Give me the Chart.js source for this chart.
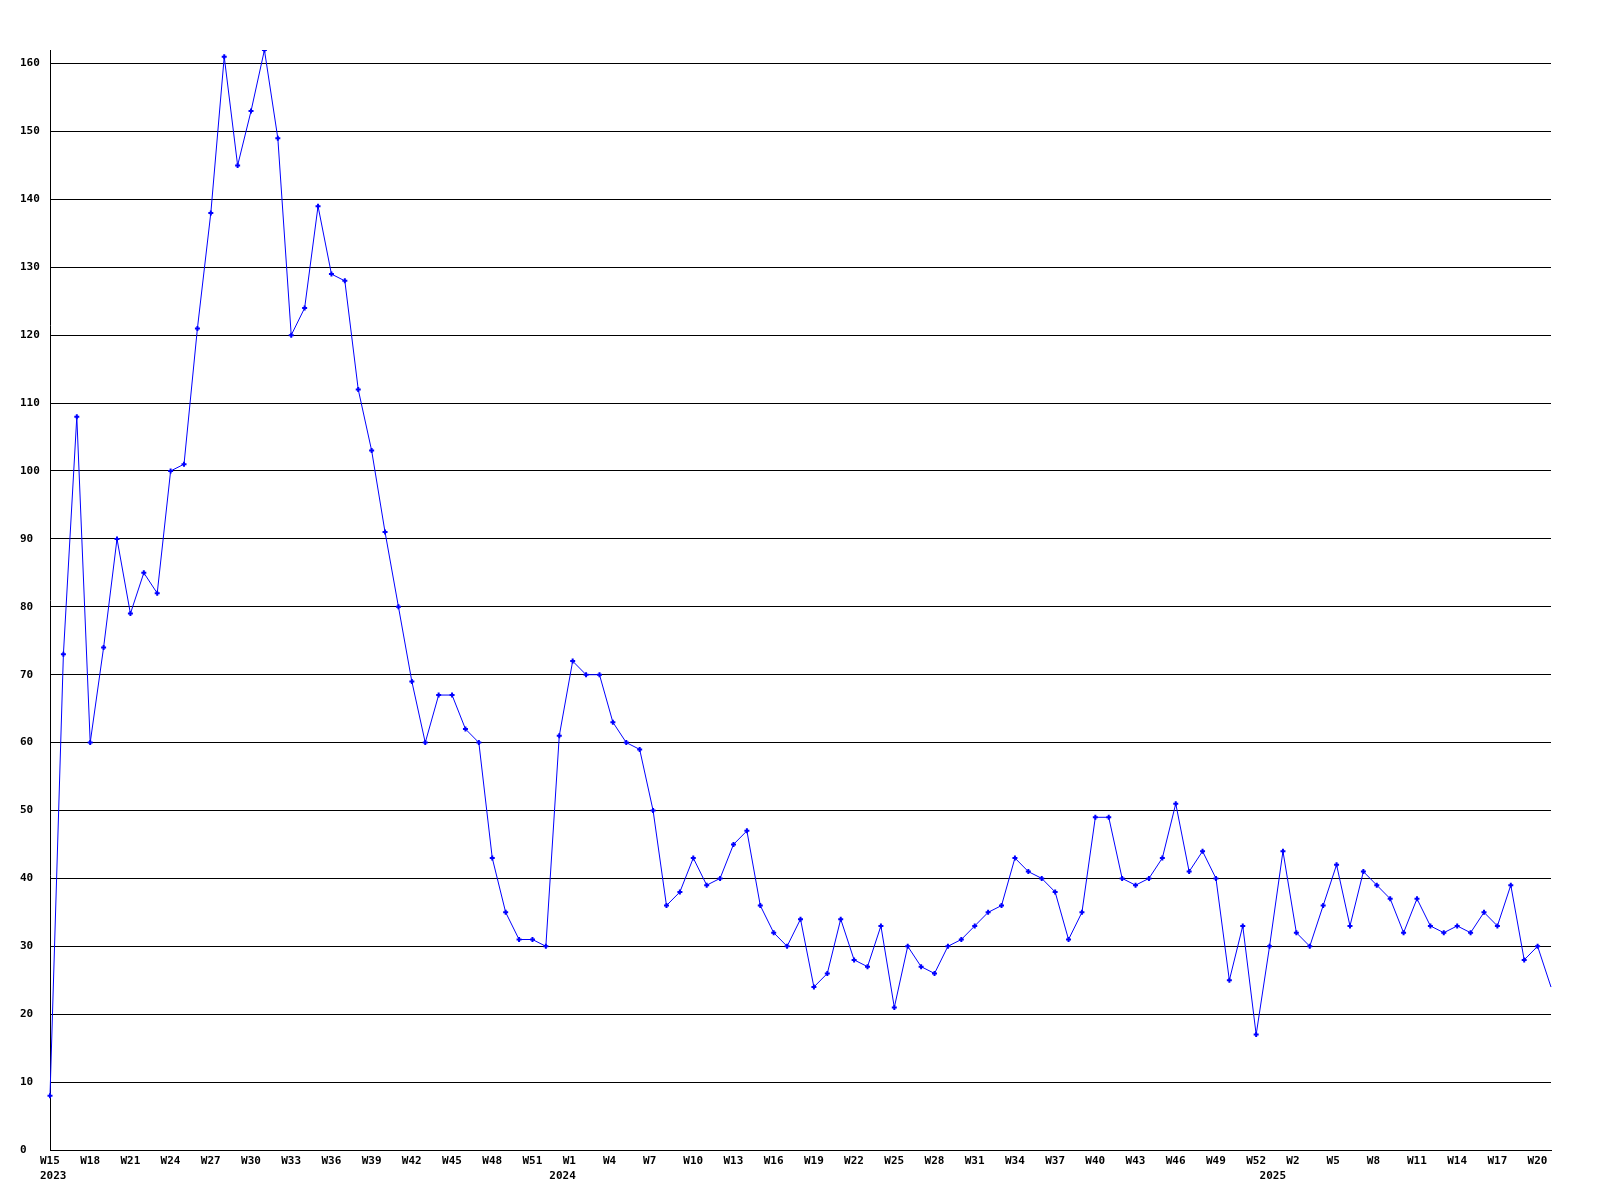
<!DOCTYPE html>
<html>
<head>
<meta charset="utf-8">
<script src="https://cdn.jsdelivr.net/npm/chart.js@4"></script>
<style>
    body { margin: 0; background: #fff; }
    #wrap { width: 1600px; height: 1200px; }
</style>
</head>
<body>
<div id="wrap"><canvas id="myChart" width="1600" height="1200"></canvas></div>
<script>
const years = ['2023', '2024', '2025'];

const weeks2023 = ['W15','W16','W17','W18','W19','W20','W21','W22','W23','W24','W25','W26','W27','W28','W29','W30','W31','W32','W33',
    'W34','W35','W36','W37','W38','W39','W40','W41','W42','W43','W44','W45','W46','W47','W48','W49','W50','W51','W52'];
const weeks2024 = ['W0','W1','W2','W3','W4','W5','W6','W7','W8','W9','W10','W11','W12','W13','W14','W15','W16','W17','W18','W19','W20',
    'W21','W22','W23','W24','W25','W26','W27','W28','W29','W30','W31','W32','W33','W34','W35','W36','W37','W38','W39','W40',
    'W41','W42','W43','W44','W45','W46','W47','W48','W49','W50','W51','W52'];
const weeks2025 = ['W0','W1','W2','W3','W4','W5','W6','W7','W8','W9','W10','W11','W12','W13','W14','W15','W16','W17','W18','W19','W20','W21'];

const counts = [
    8, 73, 108, 60, 74, 90, 79, 85, 82, 100, 101, 121, 138, 161, 145, 153, 162, 149, 120, 124,
    139, 129, 128, 112, 103, 91, 80, 69, 60, 67, 67, 62, 60, 43, 35, 31, 31, 30, 61, 72,
    70, 70, 63, 60, 59, 50, 36, 38, 43, 39, 40, 45, 47, 36, 32, 30, 34, 24, 26, 34,
    28, 27, 33, 21, 30, 27, 26, 30, 31, 33, 35, 36, 43, 41, 40, 38, 31, 35, 49, 49,
    40, 39, 40, 43, 51, 41, 44, 40, 25, 33, 17, 30, 44, 32, 30, 36, 42, 33, 41, 39,
    37, 32, 37, 33, 32, 33, 32, 35, 33, 39, 28, 30, 24
];

// flatten weeks, remember where each year starts
const labels = [];
const yearAt = {};
[weeks2023, weeks2024, weeks2025].forEach((w, k) => {
    yearAt[labels.length] = years[k];
    w.forEach(x => labels.push(x));
});

const font = { family: 'DejaVu Sans Mono', size: 11, weight: 'bold', lineHeight: 1.35 };

const ctx = document.getElementById('myChart');
const myChart = new Chart(ctx, {
    type: 'line',
    data: {
        labels: labels,
        datasets: [{
            data: counts,
            borderColor: '#0000ff',
            backgroundColor: '#0000ff',
            borderWidth: 1,
            tension: 0,
            pointStyle: 'cross',
            // no marker on the last (still running) week
            pointRadius: c => c.dataIndex === counts.length - 1 ? 0 : 2.5,
            pointBorderWidth: 2,
            pointBorderColor: '#0000ff',
            pointHoverRadius: 2.5
        }]
    },
    options: {
        responsive: false,
        animation: false,
        layout: {
            padding: { left: 20, right: 49, top: 50, bottom: 0 }
        },
        scales: {
            x: {
                offset: false,
                grid: { drawOnChartArea: false, drawTicks: false },
                border: { display: true, color: '#000', width: 1 },
                afterFit: s => { s.height = 50; },
                ticks: {
                    autoSkip: false,
                    maxRotation: 0,
                    minRotation: 0,
                    align: 'start',
                    labelOffset: -10,
                    padding: 4,
                    color: '#000',
                    font: font,
                    callback: function(val, i) {
                        const wk = i % 3 === 0 ? labels[i] : '';
                        const yr = yearAt[i];
                        if (yr) return [wk, yr];
                        return wk || null;
                    }
                }
            },
            y: {
                min: 0,
                max: 162,
                grid: { color: '#000', lineWidth: 1, drawTicks: false },
                border: { display: true, color: '#000', width: 1 },
                afterFit: s => { s.width = 30; },
                ticks: {
                    stepSize: 10,
                    includeBounds: false,
                    crossAlign: 'far',
                    color: '#000',
                    font: font
                }
            }
        },
        plugins: {
            legend: { display: false },
            tooltip: { enabled: false }
        }
    }
});
</script>
</body>
</html>
